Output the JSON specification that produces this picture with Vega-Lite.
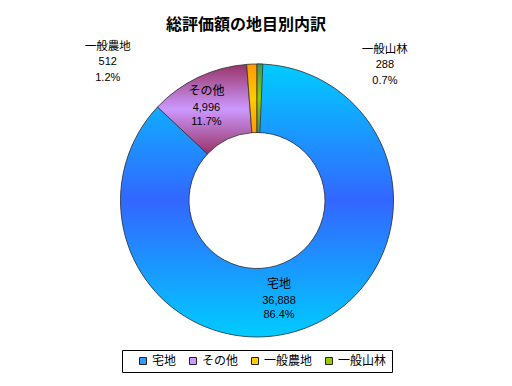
{
  "$schema": "https://vega.github.io/schema/vega-lite/v6.json",
  "width": 514,
  "height": 341,
  "padding": {"left": 0, "top": 17, "right": 0, "bottom": 0},
  "background": "white",
  "title": {"text": "総評価額の地目別内訳", "font": "Noto Sans CJK JP", "fontSize": 16, "fontWeight": "bold", "color": "#000", "anchor": "middle", "dx": -11, "frame": "group", "offset": -3},
  "config": {"view": {"stroke": null}},
  "data": {"values": [
    {"category": "宅地", "value": 36888, "share": 0.864},
    {"category": "その他", "value": 4996, "share": 0.117},
    {"category": "一般農地", "value": 512, "share": 0.012},
    {"category": "一般山林", "value": 288, "share": 0.007}
  ]},
  "transform": [
    {"stack": "value", "groupby": [], "sort": [{"field": "value", "order": "descending"}], "as": ["v0", "v1"]}
  ],
  "encoding": {
    "theta": {"field": "v0", "type": "quantitative", "stack": null}
  },
  "layer": [
    {
      "mark": {"type": "arc", "innerRadius": 68, "outerRadius": 136.5},
      "encoding": {
        "theta2": {"field": "v1"},
        "color": {
          "field": "category", "type": "nominal",
          "scale": {"domain": ["宅地", "その他", "一般農地", "一般山林"], "range": ["#3399FF", "#CC99FF", "#FFCC00", "#99CC00"]},
          "legend": {"orient": "none", "legendX": 122, "legendY": 320, "direction": "horizontal", "title": null, "symbolType": "square", "symbolSize": 49, "symbolStrokeColor": "#222", "symbolStrokeWidth": 1, "symbolOffset": 10, "labelOffset": 3, "labelFont": "Noto Sans CJK JP", "labelFontSize": 12, "labelColor": "#000", "columnPadding": 0, "padding": 5, "strokeColor": "#000", "fillColor": "#fff"}
        }
      }
    },
    {
      "mark": {"type": "arc", "innerRadius": 68, "outerRadius": 136.5, "stroke": "#333", "strokeWidth": 0.8},
      "encoding": {
        "theta2": {"field": "v1"},
        "fill": {
          "condition": [
            {"test": "datum.category === '宅地'", "value": {"gradient": "linear", "x1": 0, "y1": 0, "x2": 0, "y2": 1, "stops": [{"offset": 0, "color": "#00CCFF"}, {"offset": 0.5, "color": "#3366FF"}, {"offset": 1, "color": "#00CCFF"}]}},
            {"test": "datum.category === 'その他'", "value": {"gradient": "linear", "x1": 0, "y1": 0, "x2": 0, "y2": 1, "stops": [{"offset": 0, "color": "#993366"}, {"offset": 0.5, "color": "#CC99FF"}, {"offset": 1, "color": "#993366"}]}},
            {"test": "datum.category === '一般農地'", "value": {"gradient": "linear", "x1": 0, "y1": 0, "x2": 0, "y2": 1, "stops": [{"offset": 0, "color": "#FF9900"}, {"offset": 0.5, "color": "#FFCC00"}, {"offset": 1, "color": "#FF9900"}]}}
          ],
          "value": {"gradient": "linear", "x1": 0, "y1": 0, "x2": 0, "y2": 1, "stops": [{"offset": 0, "color": "#339966"}, {"offset": 0.5, "color": "#99CC00"}, {"offset": 1, "color": "#339966"}]}
        }
      }
    },
    {"transform": [{"filter": "datum.category === '宅地'"}],
     "mark": {"type": "text", "radius": 103, "thetaOffset": 2.926, "dy": -17, "font": "Noto Sans CJK JP", "fontSize": 12, "color": "#000", "baseline": "middle"},
     "encoding": {"text": {"field": "category", "type": "nominal"}}},
    {"transform": [{"filter": "datum.category === '宅地'"}],
     "mark": {"type": "text", "radius": 103, "thetaOffset": 2.926, "dy": 0, "font": "Liberation Sans", "fontSize": 11, "color": "#000", "baseline": "middle"},
     "encoding": {"text": {"field": "value", "type": "quantitative", "format": ","}}},
    {"transform": [{"filter": "datum.category === '宅地'"}],
     "mark": {"type": "text", "radius": 103, "thetaOffset": 2.926, "dy": 13.6, "font": "Liberation Sans", "fontSize": 11, "color": "#000", "baseline": "middle"},
     "encoding": {"text": {"field": "share", "type": "quantitative", "format": ".1%"}}},
    {"transform": [{"filter": "datum.category === 'その他'"}],
     "mark": {"type": "text", "radius": 105.4, "thetaOffset": 0.316, "dy": -17, "font": "Noto Sans CJK JP", "fontSize": 12, "color": "#000", "baseline": "middle"},
     "encoding": {"text": {"field": "category", "type": "nominal"}}},
    {"transform": [{"filter": "datum.category === 'その他'"}],
     "mark": {"type": "text", "radius": 105.4, "thetaOffset": 0.316, "dy": 0, "font": "Liberation Sans", "fontSize": 11, "color": "#000", "baseline": "middle"},
     "encoding": {"text": {"field": "value", "type": "quantitative", "format": ","}}},
    {"transform": [{"filter": "datum.category === 'その他'"}],
     "mark": {"type": "text", "radius": 105.4, "thetaOffset": 0.316, "dy": 13.6, "font": "Liberation Sans", "fontSize": 11, "color": "#000", "baseline": "middle"},
     "encoding": {"text": {"field": "share", "type": "quantitative", "format": ".1%"}}},
    {"transform": [{"filter": "datum.category === '一般農地'"}],
     "mark": {"type": "text", "radius": 203.4, "thetaOffset": -0.748, "dy": -15, "font": "Noto Sans CJK JP", "fontSize": 11.5, "color": "#000", "baseline": "middle"},
     "encoding": {"text": {"field": "category", "type": "nominal"}}},
    {"transform": [{"filter": "datum.category === '一般農地'"}],
     "mark": {"type": "text", "radius": 203.4, "thetaOffset": -0.748, "dy": 0, "font": "Liberation Sans", "fontSize": 11, "color": "#000", "baseline": "middle"},
     "encoding": {"text": {"field": "value", "type": "quantitative", "format": ","}}},
    {"transform": [{"filter": "datum.category === '一般農地'"}],
     "mark": {"type": "text", "radius": 203.4, "thetaOffset": -0.748, "dy": 16, "font": "Liberation Sans", "fontSize": 11, "color": "#000", "baseline": "middle"},
     "encoding": {"text": {"field": "share", "type": "quantitative", "format": ".1%"}}},
    {"transform": [{"filter": "datum.category === '一般山林'"}],
     "mark": {"type": "text", "radius": 186.6, "thetaOffset": 0.755, "dy": -15, "font": "Noto Sans CJK JP", "fontSize": 11.5, "color": "#000", "baseline": "middle"},
     "encoding": {"text": {"field": "category", "type": "nominal"}}},
    {"transform": [{"filter": "datum.category === '一般山林'"}],
     "mark": {"type": "text", "radius": 186.6, "thetaOffset": 0.755, "dy": 0, "font": "Liberation Sans", "fontSize": 11, "color": "#000", "baseline": "middle"},
     "encoding": {"text": {"field": "value", "type": "quantitative", "format": ","}}},
    {"transform": [{"filter": "datum.category === '一般山林'"}],
     "mark": {"type": "text", "radius": 186.6, "thetaOffset": 0.755, "dy": 16, "font": "Liberation Sans", "fontSize": 11, "color": "#000", "baseline": "middle"},
     "encoding": {"text": {"field": "share", "type": "quantitative", "format": ".1%"}}}
  ]
}
